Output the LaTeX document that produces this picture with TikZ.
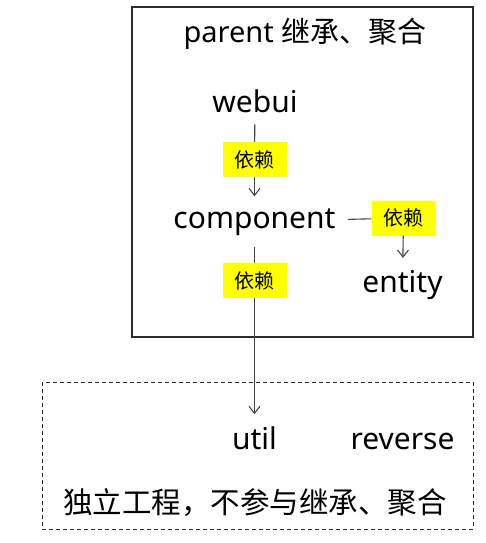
\documentclass[tikz,border=0pt]{standalone}
\usepackage{fontspec}
\setmainfont{Noto Sans}
\newfontfamily\cjk{Noto Sans CJK SC}
\usepackage{xcolor}
\definecolor{LinkGray}{HTML}{454545}
\definecolor{TagYellow}{HTML}{FFFF00}
\definecolor{FrameGray}{HTML}{2B2B2B}
\usepackage{tikz}
\usetikzlibrary{arrows.meta}

\begin{document}
\begin{tikzpicture}[x=1pt,y=-1pt,
 mod/.style={inner sep=0pt,outer sep=12pt,anchor=base,font=\fontsize{30}{36}\selectfont},
 tag/.style={fill=TagYellow,inner sep=0pt,minimum width=64pt,minimum height=35pt,
   font=\cjk\fontsize{20}{24}\selectfont},
 link/.style={draw=LinkGray,line width=1.1pt},
 dep/.style={link,-{Straight Barb[length=7pt,width=11pt]}}]
\useasboundingbox (0,0) rectangle (486,543);
\draw[FrameGray,line width=1.2pt] (132,7) rectangle (473,337);
\draw[FrameGray,line width=1pt,dash pattern=on 4pt off 3pt] (42,382) rectangle (473,529);
\node[inner sep=0pt,anchor=base,font=\fontsize{29}{34}\selectfont] (title) at (305,42) {parent {\cjk 继承、聚合}};
\node[mod] (webui) at (255,112) {webui};
\node[mod] (component) at (254.5,228) {component};
\node[mod] (entity) at (402.5,292) {entity};
\node[mod] (util) at (254.5,449) {util};
\node[mod] (reverse) at (402.5,449) {reverse};
\node[inner sep=0pt,font=\cjk\fontsize{29.5}{34}\selectfont] (note) at (255,503) {独立工程，不参与继承、聚合};
\node[tag] (tagA) at (254.5,159.5) {依赖};
\node[tag] (tagB) at (403.5,218) {依赖};
\node[tag] (tagC) at (254.5,280.5) {依赖};
\draw[link] (webui) -- (tagA);
\draw[dep] (tagA) -- (component);
\draw[link] (component) -- (tagB);
\draw[dep] (tagB) -- (entity);
\draw[link] (component) -- (tagC);
\draw[dep] (tagC) -- (util);
\end{tikzpicture}
\end{document}
